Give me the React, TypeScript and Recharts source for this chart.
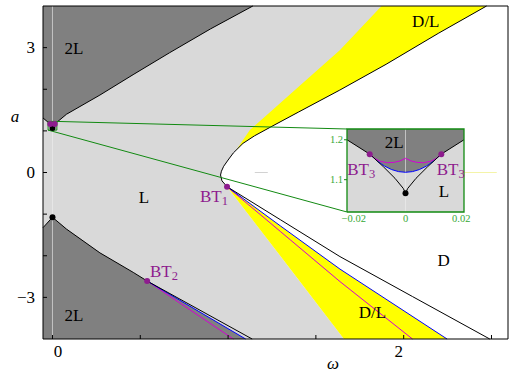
import { ComposedChart, Area, Line, Scatter, XAxis, YAxis } from 'recharts';

const SERIF = '"Liberation Serif", "Times New Roman", serif';
const PURPLE = '#8e1c8e';
const MAGENTA = '#d400d4';
const BLUE = '#0000ff';
const GREEN = '#128a12';
const GREEN_TEXT = '#36a836';
const DARK = '#808080';
const LIGHT = '#d9d9d9';
const YELLOW = '#ffff00';

// main axes
const W_DOMAIN: [number, number] = [-0.054, 2.594];
const A_DOMAIN: [number, number] = [-4, 4];
const X_TICKS = [0, 0.5, 1, 1.5, 2, 2.5];
const X_TICK_LABELS = ['0', '', '', '', '2', ''];
const Y_TICKS = [-3, -2, -1, 0, 1, 2, 3];
const Y_TICK_LABELS = ['−3', '', '', '0', '', '', '3'];

// regions as [omega, lower a, upper a]
const plotArea = [
  [-0.054, -4, 4],
  [2.594, -4, 4],
];
const dRegion = [
  [0.957, -0.06, -0.06],
  [0.962, -0.15, 0.03],
  [0.965, -0.2, 0.06],
  [0.975, -0.25, 0.15],
  [0.994, -0.341, 0.264],
  [1.0, -0.374, 0.3],
  [1.03, -0.539, 0.47],
  [1.085, -0.841, 0.7],
  [1.15, -1.197, 0.88],
  [1.256, -1.779, 1.124],
  [1.4, -2.569, 1.45],
  [1.636, -3.866, 1.98],
  [1.66, -4, 2.036],
  [1.9, -4, 2.6],
  [2.2, -4, 3.35],
  [2.472, -4, 4],
  [2.594, -4, 4],
];
const yellowUpper = [
  [1.05, 0.554, 0.56],
  [1.085, 0.7, 0.78],
  [1.124, 0.808, 1.02],
  [1.15, 0.88, 1.117],
  [1.256, 1.124, 1.514],
  [1.4, 1.45, 2.053],
  [1.636, 1.98, 2.936],
  [1.874, 2.539, 4],
  [1.9, 2.6, 4],
  [2.2, 3.35, 4],
  [2.472, 4, 4],
];
const yellowLower = [
  [0.994, -0.341, -0.341],
  [1.3, -2.021, -1.29],
  [1.637, -3.871, -2.32],
  [1.66, -4, -2.383],
  [2.247, -4, -4],
];
const twoLUpper = [
  [-0.054, 1.31, 4],
  [-0.0128, 1.164, 4],
  [0, 1.12, 4],
  [0.0128, 1.164, 4],
  [0.08, 1.4, 4],
  [0.27, 1.86, 4],
  [0.459, 2.35, 4],
  [0.668, 2.88, 4],
  [0.9, 3.45, 4],
  [1.141, 4, 4],
];
const twoLLower = [
  [-0.054, -4, -1.326],
  [0, -4, -1.076],
  [0.08, -4, -1.36],
  [0.27, -4, -1.93],
  [0.46, -4, -2.4],
  [0.539, -4, -2.607],
  [1.1, -4, -4],
];

// curves as [omega, a]
const foldCurve = [
  [2.472, 4], [2.2, 3.35], [1.9, 2.6], [1.636, 1.98], [1.4, 1.45], [1.256, 1.124],
  [1.15, 0.88], [1.085, 0.7], [1.03, 0.47], [1.0, 0.3], [0.975, 0.15], [0.962, 0.03],
  [0.957, -0.06], [0.965, -0.2], [0.994, -0.341], [1.3, -1.14], [1.637, -2.02],
  [2.05, -2.98], [2.49, -4],
];
const upperHopf = [
  [-0.054, 1.31], [-0.0128, 1.164], [0, 1.067], [0.0128, 1.164], [0.08, 1.4],
  [0.27, 1.86], [0.459, 2.35], [0.668, 2.88], [0.9, 3.45], [1.141, 4],
];
const lowerHopf = [
  [-0.054, -1.326], [0, -1.076], [0.08, -1.36], [0.27, -1.93], [0.46, -2.4],
  [0.539, -2.607], [1.137, -4],
];
const blueBT1 = [[0.994, -0.341], [1.3, -1.29], [1.637, -2.32], [2.247, -4]];
const magentaBT1 = [[0.994, -0.341], [1.3, -1.425], [1.637, -2.62], [2.05, -4]];
const blueBT2 = [[0.539, -2.607], [1.1, -4]];
const magentaBT2 = [[0.539, -2.607], [1.03, -4]];
const zeroLine = [[0, -4], [0, 4]];
const faintGray = [[1.152, 0], [1.226, 0]];
const faintYellow = [[2.348, 0], [2.53, 0]];
const frame = [[-0.054, -4], [2.594, -4], [2.594, 4], [-0.054, 4], [-0.054, -4]];
const zoomBox = [[-0.025, 1.019], [0.025, 1.019], [0.025, 1.227], [-0.025, 1.227], [-0.025, 1.019]];
const zoomLineTop = [[0.025, 1.227], [1.677, 1.045]];
const zoomLineBottom = [[-0.025, 1.019], [1.677, -0.949]];
const blackDots = [[0, -1.076], [0, 1.067]];
const purpleDots = [[0.994, -0.341], [0.539, -2.607], [-0.0128, 1.164], [0.0128, 1.164]];

const regionLabels = [
  { w: 0.1225, a: 2.99, text: '2L' },
  { w: 0.1225, a: -3.42, text: '2L' },
  { w: 0.521, a: -0.59, text: 'L' },
  { w: 2.228, a: -2.095, text: 'D' },
  { w: 2.126, a: 3.64, text: 'D/L' },
  { w: 1.822, a: -3.36, text: 'D/L' },
];
const btLabels = [
  { w: 0.9995, a: -0.7, text: 'BT', sub: '1', anchor: 'end' },
  { w: 0.555, a: -2.503, text: 'BT', sub: '2', anchor: 'start' },
];

// inset
const IN_W: [number, number] = [-0.021, 0.021];
const IN_A: [number, number] = [1.019, 1.227];
const IN_X_TICKS = [-0.02, 0, 0.02];
const IN_X_LABELS = ['−0.02', '0', '0.02'];
const IN_Y_TICKS = [1.1, 1.2];
const IN_Y_LABELS = ['1.1', '1.2'];
const insetBack = [[-0.021, 1.019, 1.227], [0.021, 1.019, 1.227]];
const insetTwoL = [
  [-0.021, 1.2, 1.227], [-0.01285, 1.164, 1.227], [-0.01, 1.146, 1.227],
  [-0.0075, 1.134, 1.227], [-0.005, 1.1254, 1.227], [-0.0025, 1.1202, 1.227],
  [0, 1.1185, 1.227], [0.0025, 1.1202, 1.227], [0.005, 1.1254, 1.227],
  [0.0075, 1.134, 1.227], [0.01, 1.146, 1.227], [0.01285, 1.164, 1.227],
  [0.021, 1.2, 1.227],
];
const insetBlue = [
  [-0.01285, 1.164], [-0.01, 1.146], [-0.0075, 1.134], [-0.005, 1.1254], [-0.0025, 1.1202],
  [0, 1.1185], [0.0025, 1.1202], [0.005, 1.1254], [0.0075, 1.134], [0.01, 1.146], [0.01285, 1.164],
];
const insetMagenta = [
  [-0.01285, 1.164], [-0.011, 1.153], [-0.009, 1.146], [-0.0065, 1.1425], [-0.004, 1.1435],
  [-0.002, 1.147], [0, 1.1535], [0.002, 1.147], [0.004, 1.1435], [0.0065, 1.1425],
  [0.009, 1.146], [0.011, 1.153], [0.01285, 1.164],
];
const insetBlack = [
  [-0.021, 1.2], [-0.01285, 1.164], [-0.00795, 1.1325], [-0.00377, 1.1034], [-0.00079, 1.078],
  [0, 1.066], [0.00079, 1.078], [0.00377, 1.1034], [0.00795, 1.1325], [0.01285, 1.164], [0.021, 1.2],
];
const insetZero = [[0, 1.019], [0, 1.227]];
const insetFrame = [[-0.021, 1.019], [0.021, 1.019], [0.021, 1.227], [-0.021, 1.227], [-0.021, 1.019]];
const insetBlackDots = [[0, 1.066]];
const insetPurpleDots = [[-0.01285, 1.164], [0.01285, 1.164]];
const insetRegionLabels = [
  { w: -0.0041, a: 1.195, text: '2L' },
  { w: 0.0138, a: 1.0716, text: 'L' },
];
const insetBtLabels = [
  { w: -0.0209, a: 1.1117, text: 'BT', sub: '3', anchor: 'start' },
  { w: 0.0112, a: 1.1117, text: 'BT', sub: '3', anchor: 'start' },
];

const pts = (rows: number[][]) => rows.map(([w, a]) => ({ w, a }));
const band = (rows: number[][]) => rows.map(([w, lo, hi]) => ({ w, r: [lo, hi] }));

function MainXTick(props: any) {
  const { x, y, payload } = props;
  const label = X_TICK_LABELS[X_TICKS.indexOf(payload.value)];
  if (!label) return <g />;
  const dx = payload.value === 0 ? 5.5 : -5;
  return (
    <text x={x + dx} y={y + 18} textAnchor="middle" fontFamily={SERIF} fontSize={17} fill="#000">
      {label}
    </text>
  );
}

function MainYTick(props: any) {
  const { x, y, payload } = props;
  const label = Y_TICK_LABELS[Y_TICKS.indexOf(payload.value)];
  if (!label) return <g />;
  return (
    <text x={x} y={y + 5.8} textAnchor="end" fontFamily={SERIF} fontSize={17} fill="#000">
      {label}
    </text>
  );
}

function InsetXTick(props: any) {
  const { x, y, payload } = props;
  const label = IN_X_LABELS[IN_X_TICKS.indexOf(payload.value)];
  const dx = payload.value < 0 ? 4 : 0;
  return (
    <text x={x + dx} y={y + 10} textAnchor="middle" fontFamily={SERIF} fontSize={10.5} fill={GREEN_TEXT}>
      {label}
    </text>
  );
}

function InsetYTick(props: any) {
  const { x, y, payload } = props;
  const label = IN_Y_LABELS[IN_Y_TICKS.indexOf(payload.value)];
  return (
    <text x={x} y={y + 3.5} textAnchor="end" fontFamily={SERIF} fontSize={10.5} fill={GREEN_TEXT}>
      {label}
    </text>
  );
}

const dot = (r: number, fill: string) => (p: any) => <circle cx={p.cx} cy={p.cy} r={r} fill={fill} />;

const regionText = (p: any) => (
  <text x={p.cx} y={p.cy} dy="0.36em" textAnchor="middle" fontFamily={SERIF} fontSize={17} fill="#000">
    {p.payload.text}
  </text>
);

const btText = (p: any) => (
  <text x={p.cx} y={p.cy} textAnchor={p.payload.anchor} fontFamily={SERIF} fontSize={17} fill={PURPLE}>
    {p.payload.text}
    <tspan fontSize={12.5} dy={3}>
      {p.payload.sub}
    </tspan>
  </text>
);

function fill(rows: number[][], color: string, key: string) {
  return (
    <Area
      key={key}
      data={band(rows)}
      dataKey="r"
      type="linear"
      fill={color}
      fillOpacity={1}
      stroke="none"
      dot={false}
      activeDot={false}
      isAnimationActive={false}
    />
  );
}

function curve(rows: number[][], color: string, key: string, width = 1, opacity = 1) {
  return (
    <Line
      key={key}
      data={pts(rows)}
      dataKey="a"
      type="linear"
      stroke={color}
      strokeWidth={width}
      strokeOpacity={opacity}
      dot={false}
      activeDot={false}
      isAnimationActive={false}
    />
  );
}

export default function App() {
  return (
    <div style={{ position: 'absolute', left: 0, top: 0, width: 511, height: 373, background: '#fff' }}>
      <ComposedChart width={511} height={373} margin={{ top: 6, right: 3, bottom: 0, left: 0 }}>
        <XAxis
          dataKey="w"
          type="number"
          domain={W_DOMAIN}
          ticks={X_TICKS}
          interval={0}
          height={34}
          tickSize={-4}
          tickMargin={4}
          axisLine={false}
          tickLine={{ stroke: '#000' }}
          tick={<MainXTick />}
        />
        <YAxis
          dataKey="a"
          type="number"
          domain={A_DOMAIN}
          ticks={Y_TICKS}
          interval={0}
          width={43}
          tickSize={-4}
          tickMargin={12}
          axisLine={false}
          tickLine={{ stroke: '#000' }}
          tick={<MainYTick />}
        />
        {fill(plotArea, LIGHT, 'bg')}
        {fill(dRegion, '#ffffff', 'd')}
        {fill(yellowUpper, YELLOW, 'yu')}
        {fill(yellowLower, YELLOW, 'yl')}
        {fill(twoLUpper, DARK, 'lu')}
        {fill(twoLLower, DARK, 'll')}
        {curve(zeroLine, '#eeeeee', 'zero', 1, 0.6)}
        {curve(faintGray, '#d2d2d2', 'fg')}
        {curve(faintYellow, '#f4f4a8', 'fy')}
        {curve(magentaBT1, MAGENTA, 'm1')}
        {curve(blueBT1, BLUE, 'b1')}
        {curve(magentaBT2, MAGENTA, 'm2')}
        {curve(blueBT2, BLUE, 'b2')}
        {curve(foldCurve, '#000', 'fold')}
        {curve(upperHopf, '#000', 'uh')}
        {curve(lowerHopf, '#000', 'lh')}
        {curve(zoomLineTop, GREEN, 'zt')}
        {curve(zoomLineBottom, GREEN, 'zb')}
        {curve(zoomBox, GREEN, 'zbox')}
        {curve(frame, '#000', 'frame')}
        <Scatter data={pts(blackDots)} dataKey="a" isAnimationActive={false} shape={dot(3, '#000')} />
        <Scatter data={pts(purpleDots)} dataKey="a" isAnimationActive={false} shape={dot(3, PURPLE)} />
        <Scatter data={regionLabels} dataKey="a" isAnimationActive={false} shape={regionText} />
        <Scatter data={btLabels} dataKey="a" isAnimationActive={false} shape={btText} />
      </ComposedChart>

      <div style={{ position: 'absolute', left: 317, top: 125 }}>
        <ComposedChart width={155} height={105} margin={{ top: 4, right: 8, bottom: 0, left: 0 }}>
          <XAxis
            dataKey="w"
            type="number"
            domain={IN_W}
            ticks={IN_X_TICKS}
            interval={0}
            height={18}
            tickSize={0}
            tickMargin={0}
            axisLine={false}
            tickLine={false}
            tick={<InsetXTick />}
          />
          <YAxis
            dataKey="a"
            type="number"
            domain={IN_A}
            ticks={IN_Y_TICKS}
            interval={0}
            width={30}
            tickSize={3}
            tickMargin={1}
            axisLine={false}
            tickLine={{ stroke: GREEN }}
            tick={<InsetYTick />}
          />
          {fill(insetBack, LIGHT, 'ibg')}
          {fill(insetTwoL, DARK, 'i2l')}
          {curve(insetZero, '#eeeeee', 'izero', 1, 0.6)}
          {curve(insetBlue, BLUE, 'ib')}
          {curve(insetMagenta, MAGENTA, 'im')}
          {curve(insetBlack, '#000', 'ik')}
          {curve(insetFrame, GREEN, 'ifr', 1.3)}
          <Scatter data={pts(insetBlackDots)} dataKey="a" isAnimationActive={false} shape={dot(3, '#000')} />
          <Scatter data={pts(insetPurpleDots)} dataKey="a" isAnimationActive={false} shape={dot(3, PURPLE)} />
          <Scatter data={insetRegionLabels} dataKey="a" isAnimationActive={false} shape={regionText} />
          <Scatter data={insetBtLabels} dataKey="a" isAnimationActive={false} shape={btText} />
        </ComposedChart>
      </div>

      <div
        style={{
          position: 'absolute', left: 0, top: 108, width: 30, height: 17, textAlign: 'center',
          fontFamily: SERIF, fontStyle: 'italic', fontSize: 17, lineHeight: '17px',
        }}
      >
        a
      </div>
      <div
        style={{
          position: 'absolute', left: 318, top: 355, width: 30, height: 17, textAlign: 'center',
          fontFamily: SERIF, fontStyle: 'italic', fontSize: 17, lineHeight: '17px',
        }}
      >
        ω
      </div>
    </div>
  );
}
